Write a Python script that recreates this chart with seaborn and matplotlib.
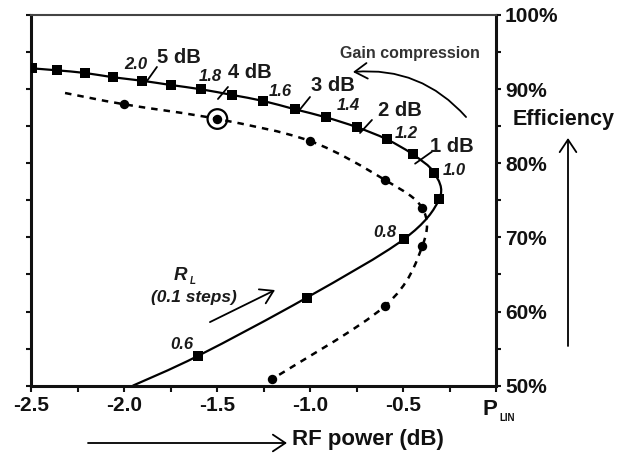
import numpy as np
import matplotlib
matplotlib.use("Agg")
import matplotlib.pyplot as plt
from matplotlib.path import Path
from matplotlib.patches import PathPatch
import seaborn as sns

# solid curve: load resistance sweep, R_L = 0.6 ... 2.4 in 0.1 steps
rl_values = [0.6, 0.7, 0.8, 0.9, 1.0, 1.1, 1.2, 1.3, 1.4, 1.5,
             1.6, 1.7, 1.8, 1.9, 2.0, 2.1, 2.2, 2.3, 2.4]
rl_power = [-1.600, -1.018, -0.496, -0.305, -0.333, -0.448, -0.588, -0.746, -0.914, -1.081,
            -1.251, -1.418, -1.586, -1.749, -1.905, -2.058, -2.210, -2.362, -2.493]
rl_eff = [54.05, 61.87, 69.75, 75.18, 78.73, 81.21, 83.24, 84.85, 86.20, 87.28,
          88.40, 89.21, 89.98, 90.56, 91.14, 91.60, 92.18, 92.54, 92.80]
rl_edge = (-1.953, 50.0)  # where the solid curve leaves the plot

# dashed curve
dash_power = [-1.998, -1.498, -1.000, -0.597, -0.396, -0.396, -0.597, -1.203]
dash_eff = [87.95, 85.97, 83.00, 77.75, 73.93, 68.84, 60.75, 50.90]
dash_edge = (-2.317, 89.48)  # dashed curve starts here, no marker
highlight = 1  # circled point on the dashed curve

rl_labels = ["0.6", "0.8", "1.0", "1.2", "1.4", "1.6", "1.8", "2.0"]
compression_labels = ["1 dB", "2 dB", "3 dB", "4 dB", "5 dB"]

x_ticks = [-2.5, -2.0, -1.5, -1.0, -0.5, 0.0]
x_ticklabels = ["-2.5", "-2.0", "-1.5", "-1.0", "-0.5", ""]
y_ticks = [50, 60, 70, 80, 90, 100]
y_ticklabels = ["50%", "60%", "70%", "80%", "90%", "100%"]

# label placement (pixel offsets from the marker)
rl_label_offsets = {"0.6": (-17, 11), "0.8": (-19, 7), "1.0": (20, 2), "1.2": (20, 6),
                    "1.4": (22, 12), "1.6": (17, 10), "1.8": (9, 13), "2.0": (-6, 16)}
# compression marks: short tick across the curve + label position (data coords)
compression_marks = {
    "1 dB": ((-0.435, 79.95), (-0.344, 81.57), (-0.237, 82.24)),
    "2 dB": ((-0.731, 84.09), (-0.667, 85.84), (-0.516, 87.18)),
    "3 dB": ((-1.065, 86.92), (-1.000, 88.94), (-0.876, 90.45)),
    "4 dB": ((-1.495, 88.67), (-1.441, 90.29), (-1.323, 92.18)),
    "5 dB": ((-1.892, 90.56), (-1.823, 92.99), (-1.704, 94.33)),
}

sns.set_style("ticks")
plt.rcParams['font.family'] = ['Liberation Sans', 'DejaVu Sans']
plt.rcParams['font.weight'] = 'bold'

W, H = 619, 454
fig = plt.figure(figsize=(W / 100, H / 100), dpi=100)
ax = fig.add_axes([31 / W, 68.3 / H, 465 / W, 370.7 / H])
ax.set_xlim(-2.5, 0)
ax.set_ylim(50, 100)


def smooth_path(xs, ys):
    # Catmull-Rom through the points, built in screen space, drawn as Bezier
    pts = ax.transData.transform(np.column_stack([xs, ys]))
    n = len(pts)
    verts = [pts[0]]
    codes = [Path.MOVETO]
    for i in range(n - 1):
        p0 = pts[i - 1] if i > 0 else pts[i]
        p1, p2 = pts[i], pts[i + 1]
        p3 = pts[i + 2] if i + 2 < n else pts[i + 1]
        verts += [p1 + (p2 - p0) / 6, p2 - (p3 - p1) / 6, p2]
        codes += [Path.CURVE4] * 3
    return Path(ax.transData.inverted().transform(np.array(verts)), codes)


solid = smooth_path([rl_edge[0]] + rl_power, [rl_edge[1]] + rl_eff)
ax.add_patch(PathPatch(solid, fill=False, color='black', lw=1.6))
dashed = smooth_path([dash_edge[0]] + dash_power, [dash_edge[1]] + dash_eff)
ax.add_patch(PathPatch(dashed, fill=False, color='black', lw=1.8,
                       linestyle=(0, (2.6, 2.4))))

sns.scatterplot(x=rl_power, y=rl_eff, marker='s', s=44, color='black',
                linewidth=0, ax=ax, zorder=3)
sns.scatterplot(x=dash_power, y=dash_eff, marker='o', s=46, color='black',
                linewidth=0, ax=ax, zorder=3)
ax.scatter([dash_power[highlight]], [dash_eff[highlight]], s=200, facecolors='none',
           edgecolors='black', linewidths=1.6, zorder=3)

for lab in rl_labels:
    i = rl_values.index(float(lab))
    ax.annotate(lab, (rl_power[i], rl_eff[i]), xytext=rl_label_offsets[lab],
                textcoords='offset pixels', ha='center', va='center',
                fontsize=12, fontstyle='italic', color='#1a1a1a')

for lab in compression_labels:
    a, b, t = compression_marks[lab]
    ax.plot([a[0], b[0]], [a[1], b[1]], color='black', lw=1.3)
    ax.text(t[0], t[1], lab, ha='center', va='center', fontsize=14.5, color='#1a1a1a')

# gain compression arrow
ax.text(-0.463, 94.74, "Gain compression", ha='center', va='center',
        fontsize=11.5, color='#333333')
ax.annotate('', xy=(-0.769, 92.31), xytext=(-0.161, 86.24),
            arrowprops=dict(arrowstyle='->,head_length=0.45,head_width=0.28',
                            connectionstyle='arc3,rad=0.25', lw=1.3, color='black',
                            mutation_scale=20, shrinkA=0, shrinkB=0))

# R_L arrow
ax.text(-1.694, 64.93, "R", ha='center', va='center', fontsize=13.5,
        fontstyle='italic', color='#1a1a1a')
ax.text(-1.632, 64.10, "L", ha='center', va='center', fontsize=7,
        fontstyle='italic', color='#1a1a1a')
ax.text(-1.624, 61.96, "(0.1 steps)", ha='center', va='center', fontsize=12.5,
        fontstyle='italic', color='#1a1a1a')
ax.annotate('', xy=(-1.188, 62.9), xytext=(-1.538, 58.58),
            arrowprops=dict(arrowstyle='->,head_length=0.45,head_width=0.28',
                            lw=1.3, color='black', mutation_scale=20,
                            shrinkA=0, shrinkB=0))

# axes, ticks
ax.set_xticks(x_ticks)
ax.set_xticklabels(x_ticklabels)
ax.set_xticks(np.arange(-2.25, 0, 0.5), minor=True)
ax.set_yticks(y_ticks)
ax.set_yticklabels(y_ticklabels)
ax.set_yticks(np.arange(55, 100, 10), minor=True)
ax.tick_params(axis='x', which='both', direction='out', length=4.5, width=1.5,
               pad=3, labelsize=15, colors='#111111')
ax.tick_params(axis='y', which='both', direction='out', length=3.5, width=1.5,
               left=True, right=True, labelleft=False, labelright=True,
               pad=3, labelsize=15, colors='#111111')
for side in ['left', 'bottom', 'right']:
    ax.spines[side].set_linewidth(2.2)
    ax.spines[side].set_color('#111111')
ax.spines['top'].set_linewidth(1.5)
ax.spines['top'].set_color('#444444')
ax.grid(False)

# P_LIN at the zero end of the power axis
ax.annotate('P', (0, 50), xytext=(-13, -29), textcoords='offset pixels',
            ha='left', va='baseline', fontsize=16, color='#111111')
ax.annotate('LIN', (0, 50), xytext=(3, -35), textcoords='offset pixels',
            ha='left', va='baseline', fontsize=7, color='#111111')

# outer axis titles with arrows
fig.text(368 / W, 1 - 445 / H, "RF power (dB)", ha='center', va='baseline',
         fontsize=16, color='#111111')
ax.annotate('', xy=(287 / W, 1 - 443 / H), xycoords='figure fraction',
            xytext=(88 / W, 1 - 443 / H), textcoords='figure fraction',
            arrowprops=dict(arrowstyle='->,head_length=0.45,head_width=0.3',
                            lw=1.3, color='black', mutation_scale=20,
                            shrinkA=0, shrinkB=0))
fig.text(564 / W, 1 - 125 / H, "Efficiency", ha='center', va='baseline',
         fontsize=15.5, color='#111111')
ax.annotate('', xy=(568 / W, 1 - 138 / H), xycoords='figure fraction',
            xytext=(568 / W, 1 - 346 / H), textcoords='figure fraction',
            arrowprops=dict(arrowstyle='->,head_length=0.45,head_width=0.3',
                            lw=1.3, color='black', mutation_scale=20,
                            shrinkA=0, shrinkB=0))

fig.savefig('out.png', dpi=100)
